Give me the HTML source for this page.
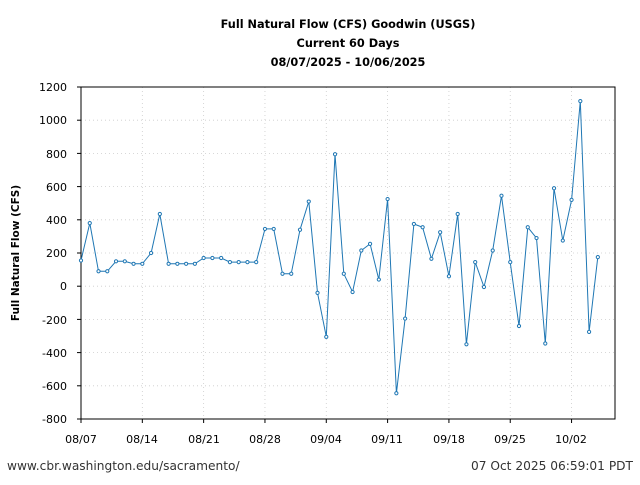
<!DOCTYPE html>
<html><head><meta charset="utf-8"><style>
body{margin:0;background:#fff;width:640px;height:480px;overflow:hidden}
svg{font-family:"DejaVu Sans","Liberation Sans",sans-serif}
</style></head><body>
<svg id="s" width="640" height="480" xmlns="http://www.w3.org/2000/svg">
<g font-size="11.3" font-weight="bold" text-anchor="middle" fill="#000">
<text x="348" y="28">Full Natural Flow (CFS) Goodwin (USGS)</text>
<text x="348" y="47">Current 60 Days</text>
<text x="348" y="66">08/07/2025 - 10/06/2025</text>
</g>
<text transform="translate(19,253) rotate(-90)" font-size="10.5" font-weight="bold" text-anchor="middle">Full Natural Flow (CFS)</text>
<g id="grid" stroke="#ccc" stroke-width="0.8" stroke-dasharray="1,3"></g>
<rect x="81" y="87" width="534" height="332" fill="none" stroke="#000" stroke-width="1"/>
<g id="ticks" stroke="#000" stroke-width="1"></g>
<g font-size="11" text-anchor="end">
<text x="67" y="91">1200</text><text x="67" y="124">1000</text><text x="67" y="158">800</text>
<text x="67" y="191">600</text><text x="67" y="224">400</text><text x="67" y="257">200</text>
<text x="67" y="290">0</text><text x="67" y="324">-200</text><text x="67" y="357">-400</text>
<text x="67" y="390">-600</text><text x="67" y="423">-800</text>
</g>
<g font-size="11" text-anchor="middle">
<text x="81" y="443">08/07</text><text x="142" y="443">08/14</text><text x="204" y="443">08/21</text>
<text x="265" y="443">08/28</text><text x="326" y="443">09/04</text><text x="387" y="443">09/11</text>
<text x="449" y="443">09/18</text><text x="510" y="443">09/25</text><text x="571" y="443">10/02</text>
</g>
<text x="7" y="470" font-size="12.2" fill="#333">www.cbr.washington.edu/sacramento/</text>
<text x="633" y="470" font-size="12.2" fill="#333" text-anchor="end">07 Oct 2025 06:59:01 PDT</text>
<polyline id="line" fill="none" stroke="#1f77b4" stroke-width="1"/>
<g id="pts" fill="#fff" stroke="#1f77b4" stroke-width="1"></g>
</svg>
<script>
var d=[155,380,90,90,150,150,135,135,200,435,135,135,135,135,170,170,170,145,145,145,145,345,345,75,75,340,510,-40,-305,795,75,-35,215,255,40,525,-645,-195,375,355,165,325,60,435,-350,145,-5,215,545,145,-240,355,290,-345,590,275,520,1115,-275,175];
var ns="http://www.w3.org/2000/svg";
function X(i){return 81+i*8.76}function Y(v){return 87+(1200-v)*0.166}
var p=[],pts=document.getElementById('pts');
d.forEach(function(v,i){p.push(X(i).toFixed(1)+','+Y(v).toFixed(1));var c=document.createElementNS(ns,'circle');c.setAttribute('cx',X(i));c.setAttribute('cy',Y(v));c.setAttribute('r',1.6);pts.appendChild(c);});
document.getElementById('line').setAttribute('points',p.join(' '));
var g=document.getElementById('grid'),t=document.getElementById('ticks');
function L(par,x1,y1,x2,y2){var l=document.createElementNS(ns,'line');l.setAttribute('x1',x1);l.setAttribute('y1',y1);l.setAttribute('x2',x2);l.setAttribute('y2',y2);par.appendChild(l);}
for(var v=-800;v<=1200;v+=200){var y=Y(v);L(g,81,y,615,y);L(t,77,y,81,y);}
for(var k=0;k<9;k++){var x=X(k*7);L(g,x,87,x,419);L(t,x,419,x,423);}
</script>
</body></html>
